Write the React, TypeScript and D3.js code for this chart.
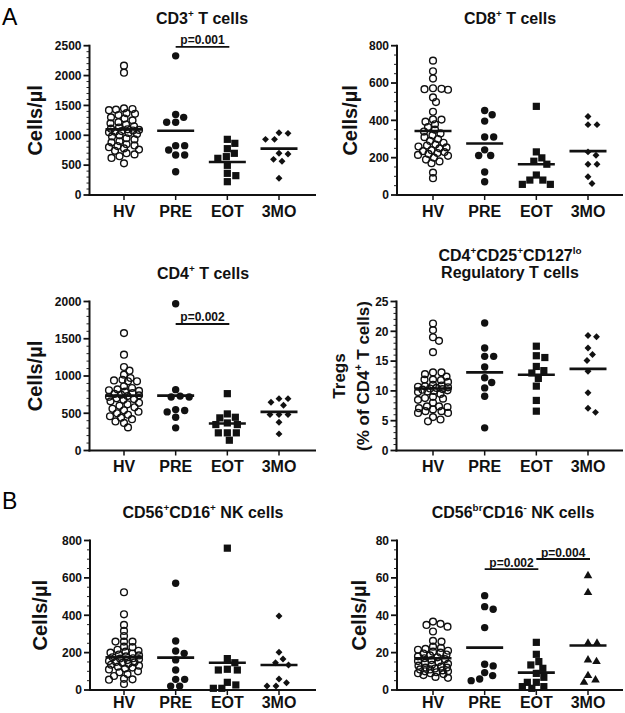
import React, { useEffect, useRef } from "react";
import * as d3 from "d3";

const categories = ["HV", "PRE", "EOT", "3MO"];

// Panel A1: CD3+ T cells (cells/µl)
const cd3HV = [2165, 2048, 1450, 1440, 1430, 1420, 1370, 1360, 1340, 1300, 1280, 1250, 1220, 1200, 1180, 1150, 1130, 1110, 1100, 1090, 1080, 1070, 1060, 1050, 1040, 1020, 1000, 980, 950, 930, 900, 880, 850, 830, 820, 800, 780, 760, 740, 700, 680, 650, 620, 530];
const cd3PRE = [2330, 1350, 1300, 1217, 1217, 826, 826, 753, 670, 670, 390];
const cd3EOT = [932, 865, 776, 698, 642, 614, 497, 363, 324, 223];
const cd3MO3 = [1043, 1032, 932, 932, 698, 686, 597, 564, 279];
const cd3Means = [1099, 1077, 552, 776];

// Panel A2: CD8+ T cells
const cd8HV = [720, 663, 624, 572, 569, 567, 564, 523, 498, 446, 405, 404, 393, 379, 364, 350, 340, 330, 320, 310, 300, 290, 280, 270, 265, 260, 255, 250, 240, 235, 230, 225, 220, 215, 210, 200, 190, 180, 170, 120, 90];
const cd8PRE = [453, 430, 396, 311, 311, 242, 212, 212, 123, 71];
const cd8EOT = [475, 231, 199, 181, 165, 107, 80, 80, 57, 57];
const cd8MO3 = [421, 377, 377, 231, 213, 165, 165, 98, 62];
const cd8Means = [343, 276, 165, 235];

// Panel A3: CD4+ T cells
const cd4HV = [1576, 1286, 1121, 1071, 1018, 973, 950, 940, 929, 929, 862, 839, 820, 808, 800, 790, 770, 760, 750, 740, 730, 720, 700, 690, 680, 660, 640, 620, 600, 580, 560, 540, 520, 500, 480, 460, 440, 420, 390, 370, 310];
const cd4PRE = [1969, 817, 730, 719, 719, 549, 536, 518, 446, 304];
const cd4EOT = [763, 491, 446, 438, 370, 348, 348, 237, 237, 237, 138];
const cd4MO3 = [696, 696, 647, 607, 482, 482, 482, 379, 223];
const cd4Means = [737, 737, 362, 518];

// Panel A4: Tregs (% of CD4+ T cells)
const tregHV = [21.3, 20.2, 19.0, 18.4, 16.5, 13.1, 13.1, 12.8, 12.4, 11.9, 11.9, 11.8, 11.5, 11.0, 10.9, 10.8, 10.7, 10.6, 10.5, 10.4, 10.3, 10.2, 10.1, 10.0, 9.9, 9.8, 9.5, 9.0, 8.8, 8.7, 8.5, 8.0, 7.4, 7.4, 7.3, 7.1, 6.9, 6.6, 6.6, 6.3, 6.3, 5.6, 5.2, 4.9];
const tregPRE = [21.4, 17.2, 15.8, 15.8, 14.0, 12.2, 11.4, 10.5, 9.1, 3.8];
const tregEOT = [17.5, 15.9, 15.6, 14.1, 13.4, 13.0, 12.1, 10.8, 8.4, 6.6];
const tregMO3 = [19.3, 19.1, 17.2, 16.1, 15.1, 13.3, 9.7, 7.1, 6.4];
const tregMeans = [10.4, 13.1, 12.7, 13.7];

// Panel B1: CD56+CD16+ NK cells
const nkHV = [523, 405, 348, 316, 289, 259, 259, 259, 232, 229, 215, 210, 205, 200, 195, 190, 185, 180, 175, 170, 168, 165, 160, 155, 150, 148, 145, 140, 135, 130, 125, 120, 115, 110, 100, 95, 85, 75, 60, 57, 55, 32];
const nkPRE = [571, 262, 209, 196, 161, 107, 57, 57, 21, 21];
const nkEOT = [759, 168, 146, 111, 107, 107, 41, 27, 9, 9];
const nkMO3 = [396, 202, 166, 146, 134, 59, 39, 21, 21];
const nkMeans = [175, 173, 146, 134];

// Panel B2: CD56brCD16- NK cells
const brHV = [36.6, 35.4, 34.8, 33.9, 31.3, 26.3, 25.9, 23.2, 22.5, 22, 21.5, 21, 20.5, 20, 19.5, 19, 18.5, 18, 17.5, 17, 16.5, 16, 15.5, 15, 14.5, 14, 13.5, 13, 12.5, 12, 12, 11.5, 11, 11, 10.5, 10, 10, 9.5, 9, 9, 8.5, 8, 7, 6.5];
const brPRE = [50.5, 44.6, 43.2, 33.4, 13.8, 12.9, 9.3, 7.7, 5.9, 5.0];
const brEOT = [25.5, 19.1, 15.2, 13.4, 11.6, 8.9, 6.8, 4.1, 4.1, 1.8, 1.8, 0.9];
const brMO3 = [61.1, 52.1, 25, 25, 16.1, 15.2, 7.7, 5.4, 4.1];
const brMeans = [17.0, 22.7, 9.3, 23.8];

const FONT = "'Liberation Sans', Arial, Helvetica, sans-serif";

type Seg = [string, string];

const panels = [
  {
    groups: [cd3HV, cd3PRE, cd3EOT, cd3MO3], means: cd3Means, yMax: 2500, major: 500, minor: 100,
    left: 89.5, xEnd: 316, xFirst: 124, xLast: 279, y0: 195, yTop: 45.7, xLabY: 217,
    title: [[["CD3", ""], ["+", "sup"], [" T cells", ""]]] as Seg[][], titleX: 202, titleY: [24],
    ylabel: [[["Cells/\u00b5l", ""]]] as Seg[][], ylabelX: [42],
    brackets: [{ from: 1, to: 2, level: 2480, label: "p=0.001" }],
    shapes: ["open", "circle", "square", "diamond"],
  },
  {
    groups: [cd8HV, cd8PRE, cd8EOT, cd8MO3], means: cd8Means, yMax: 800, major: 200, minor: 50,
    left: 397, xEnd: 623, xFirst: 433, xLast: 588, y0: 195, yTop: 45.7, xLabY: 217,
    title: [[["CD8", ""], ["+", "sup"], [" T cells", ""]]] as Seg[][], titleX: 510, titleY: [24],
    ylabel: [[["Cells/\u00b5l", ""]]] as Seg[][], ylabelX: [357],
    brackets: [],
    shapes: ["open", "circle", "square", "diamond"],
  },
  {
    groups: [cd4HV, cd4PRE, cd4EOT, cd4MO3], means: cd4Means, yMax: 2000, major: 500, minor: 100,
    left: 89.5, xEnd: 316, xFirst: 124, xLast: 279, y0: 450.5, yTop: 301.5, xLabY: 472,
    title: [[["CD4", ""], ["+", "sup"], [" T cells", ""]]] as Seg[][], titleX: 203, titleY: [279],
    ylabel: [[["Cells/\u00b5l", ""]]] as Seg[][], ylabelX: [42],
    brackets: [{ from: 1, to: 2, level: 1698, label: "p=0.002" }],
    shapes: ["open", "circle", "square", "diamond"],
  },
  {
    groups: [tregHV, tregPRE, tregEOT, tregMO3], means: tregMeans, yMax: 25, major: 5, minor: 1,
    left: 396.5, xEnd: 623, xFirst: 433, xLast: 588, y0: 450.5, yTop: 301.5, xLabY: 472,
    title: [
      [["CD4", ""], ["+", "sup"], ["CD25", ""], ["+", "sup"], ["CD127", ""], ["lo", "sup"]],
      [["Regulatory T cells", ""]],
    ] as Seg[][], titleX: 510, titleY: [261, 278],
    ylabel: [[["Tregs", ""]], [["(% of CD4", ""], ["+", "sup"], [" T cells)", ""]]] as Seg[][], ylabelX: [345, 369],
    brackets: [],
    shapes: ["open", "circle", "square", "diamond"],
  },
  {
    groups: [nkHV, nkPRE, nkEOT, nkMO3], means: nkMeans, yMax: 800, major: 200, minor: 50,
    left: 90, xEnd: 316, xFirst: 124, xLast: 279, y0: 690, yTop: 540.5, xLabY: 708,
    title: [[["CD56", ""], ["+", "sup"], ["CD16", ""], ["+", "sup"], [" NK cells", ""]]] as Seg[][], titleX: 203, titleY: [518],
    ylabel: [[["Cells/\u00b5l", ""]]] as Seg[][], ylabelX: [47],
    brackets: [],
    shapes: ["open", "circle", "square", "diamond"],
  },
  {
    groups: [brHV, brPRE, brEOT, brMO3], means: brMeans, yMax: 80, major: 20, minor: 5,
    left: 397, xEnd: 623, xFirst: 433, xLast: 588, y0: 690, yTop: 540.5, xLabY: 708,
    title: [[["CD56", ""], ["br", "sup"], ["CD16", ""], ["-", "sup"], [" NK cells", ""]]] as Seg[][], titleX: 513, titleY: [518],
    ylabel: [[["Cells/\u00b5l", ""]]] as Seg[][], ylabelX: [366],
    brackets: [
      { from: 1, to: 2, level: 64.7, label: "p=0.002" },
      { from: 2, to: 3, level: 70.1, label: "p=0.004" },
    ],
    shapes: ["open", "circle", "square", "triangle"],
  },
];

function richText(sel: any, segs: Seg[], fs: number) {
  let shifted = false;
  segs.forEach(([t, k]) => {
    const ts = sel.append("tspan").text(t);
    if (k === "sup") {
      ts.attr("font-size", fs * 0.62);
      if (!shifted) ts.attr("dy", -fs * 0.42);
      shifted = true;
    } else {
      ts.attr("font-size", fs);
      if (shifted) ts.attr("dy", fs * 0.42);
      shifted = false;
    }
  });
}

// Elliptical beeswarm with a cap on horizontal spread
function swarm(ys: number[], a: number, b: number, maxOff: number) {
  const idx = ys.map((_, i) => i).sort((i, j) => ys[i] - ys[j]);
  const xs = new Array(ys.length).fill(0);
  const placed: { x: number; y: number }[] = [];
  for (const i of idx) {
    const y = ys[i];
    let best = 0;
    let found = false;
    let bestScore = -1;
    let fallback = 0;
    for (let k = 0; k < 400; k++) {
      const off = k === 0 ? 0 : (k % 2 === 1 ? 1 : -1) * Math.ceil(k / 2) * 0.5;
      if (Math.abs(off) > maxOff) break;
      let minD = Infinity;
      for (const q of placed) {
        const d = ((q.x - off) / a) ** 2 + ((q.y - y) / b) ** 2;
        if (d < minD) minD = d;
      }
      if (minD >= 1) { best = off; found = true; break; }
      if (minD > bestScore) { bestScore = minD; fallback = off; }
    }
    xs[i] = found ? best : fallback;
    placed.push({ x: xs[i], y });
  }
  return xs;
}

export default function App() {
  const ref = useRef<SVGSVGElement | null>(null);

  useEffect(() => {
    const svg = d3.select(ref.current);
    svg.selectAll("*").remove();
    svg.append("rect").attr("width", 625).attr("height", 713).attr("fill", "white");

    svg.append("text").attr("x", 2).attr("y", 25).attr("font-family", FONT).attr("font-size", 23).text("A");
    svg.append("text").attr("x", 2).attr("y", 509).attr("font-family", FONT).attr("font-size", 23).text("B");

    panels.forEach((p) => {
      const g = svg.append("g").attr("font-family", FONT).attr("font-weight", "bold");
      const x = d3.scalePoint<string>().domain(categories).range([p.xFirst, p.xLast]);
      const y = d3.scaleLinear().domain([0, p.yMax]).range([p.y0, p.yTop]);

      // minor ticks
      const minors = d3.range(0, p.yMax + 1e-9, p.minor).filter((v) => Math.abs(v / p.major - Math.round(v / p.major)) > 1e-6);
      g.selectAll(".minor").data(minors).enter().append("line")
        .attr("x1", p.left - 3).attr("x2", p.left).attr("y1", (d) => y(d)).attr("y2", (d) => y(d))
        .attr("stroke", "#222").attr("stroke-width", 1);
      const majors = d3.range(0, p.yMax + 1e-9, p.major);
      g.selectAll(".major").data(majors).enter().append("line")
        .attr("x1", p.left - 6).attr("x2", p.left).attr("y1", (d) => y(d)).attr("y2", (d) => y(d))
        .attr("stroke", "#111").attr("stroke-width", 1.8);
      g.selectAll(".tl").data(majors).enter().append("text")
        .attr("x", p.left - 8).attr("y", (d) => y(d)).attr("dy", "0.36em")
        .attr("text-anchor", "end").attr("font-size", 12).attr("fill", "#111")
        .text((d) => d3.format("d")(d));

      // axes
      g.append("line").attr("x1", p.left).attr("x2", p.left).attr("y1", p.y0 + 1).attr("y2", p.yTop - 1)
        .attr("stroke", "#111").attr("stroke-width", 2);
      g.append("line").attr("x1", p.left - 1).attr("x2", p.xEnd).attr("y1", p.y0).attr("y2", p.y0)
        .attr("stroke", "#111").attr("stroke-width", 2);
      categories.forEach((c) => {
        g.append("line").attr("x1", x(c)!).attr("x2", x(c)!).attr("y1", p.y0).attr("y2", p.y0 + 5)
          .attr("stroke", "#111").attr("stroke-width", 1.5);
        g.append("text").attr("x", x(c)!).attr("y", p.xLabY).attr("text-anchor", "middle")
          .attr("font-size", 16).attr("fill", "#111").text(c);
      });

      // title
      p.title.forEach((line, i) => {
        const t = g.append("text").attr("x", p.titleX).attr("y", p.titleY[i]).attr("text-anchor", "middle").attr("fill", "#111");
        richText(t, line, 16);
      });

      // y label
      const yc = (p.y0 + p.yTop) / 2;
      p.ylabel.forEach((line, i) => {
        const fs = p.ylabel.length > 1 ? 17 : 20;
        const t = g.append("text").attr("transform", `translate(${p.ylabelX[i]},${yc}) rotate(-90)`)
          .attr("text-anchor", "middle").attr("fill", "#111");
        richText(t, line, fs);
      });

      // points
      p.groups.forEach((vals, gi) => {
        const cx = x(categories[gi])!;
        const ys = vals.map((v) => y(v));
        const offs = gi === 0 ? swarm(ys, 8.2, 5.0, 15) : swarm(ys, 8.6, 7.5, 14);
        const shape = p.shapes[gi];
        vals.forEach((v, i) => {
          const px = cx + offs[i];
          const py = ys[i];
          if (shape === "open") {
            g.append("circle").attr("cx", px).attr("cy", py).attr("r", 3.4)
              .attr("fill", "none").attr("stroke", "#111").attr("stroke-width", 1.4);
          } else if (shape === "circle") {
            g.append("circle").attr("cx", px).attr("cy", py).attr("r", 3.7).attr("fill", "#111");
          } else if (shape === "square") {
            g.append("rect").attr("x", px - 3.6).attr("y", py - 3.6).attr("width", 7.2).attr("height", 7.2).attr("fill", "#111");
          } else if (shape === "diamond") {
            g.append("path").attr("d", d3.symbol(d3.symbolSquare, 24)()!)
              .attr("transform", `translate(${px},${py}) rotate(45)`).attr("fill", "#111");
          } else if (shape === "triangle") {
            g.append("path").attr("d", d3.symbol(d3.symbolTriangle, 32)()!)
              .attr("transform", `translate(${px},${py})`).attr("fill", "#111");
          }
        });
      });

      // mean lines
      p.means.forEach((m, gi) => {
        const cx = x(categories[gi])!;
        g.append("line").attr("x1", cx - 18.5).attr("x2", cx + 18.5).attr("y1", y(m)).attr("y2", y(m))
          .attr("stroke", "#111").attr("stroke-width", 2.6);
      });

      // brackets
      p.brackets.forEach((b) => {
        const x1 = x(categories[b.from])!;
        const x2 = x(categories[b.to])!;
        const yy = y(b.level);
        g.append("line").attr("x1", x1).attr("x2", x2 + 2).attr("y1", yy).attr("y2", yy)
          .attr("stroke", "#111").attr("stroke-width", 1.8);
        g.append("text").attr("x", (x1 + x2 + 2) / 2).attr("y", yy - 2.5).attr("text-anchor", "middle")
          .attr("font-size", 12).attr("fill", "#111").text(b.label);
      });
    });
  }, []);

  return (
    <svg ref={ref} width={625} height={713} style={{ position: "absolute", left: 0, top: 0 }} />
  );
}
